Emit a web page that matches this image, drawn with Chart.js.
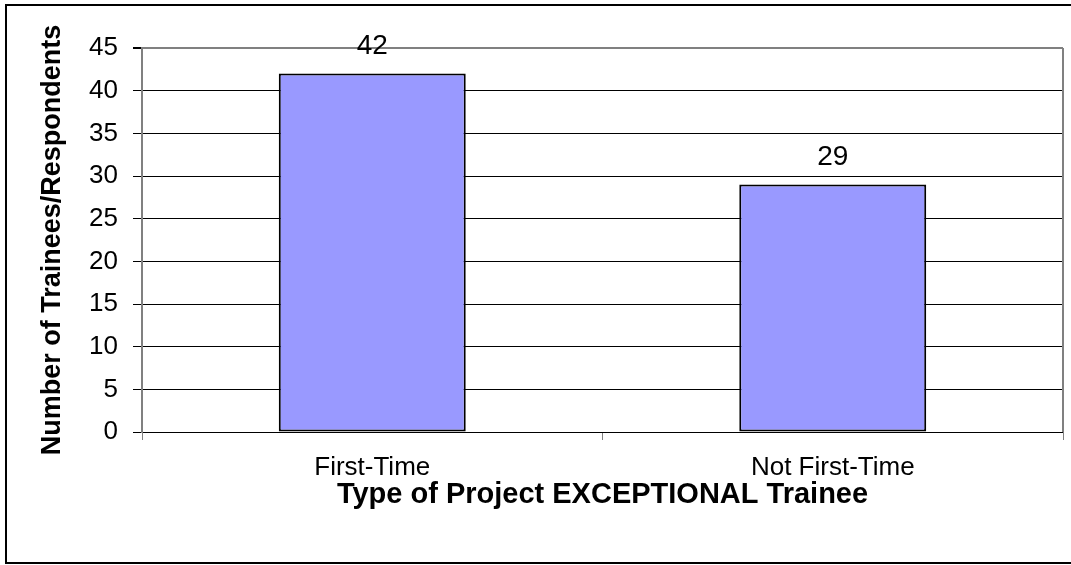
<!DOCTYPE html>
<html>
<head>
<meta charset="utf-8">
<script src="https://cdn.jsdelivr.net/npm/chart.js@4.4.1/dist/chart.umd.min.js"></script>
<style>
    html, body { margin: 0; padding: 0; background: #fff; }
    canvas { display: block; }
</style>
</head>
<body>
<canvas id="traineeChart" width="1071" height="565"></canvas>
<script>
// 数据
const categories = ['First-Time', 'Not First-Time'];
const traineeCounts = [42, 29];
const yTicks = [0, 5, 10, 15, 20, 25, 30, 35, 40, 45];

const fontFamily = '"Liberation Sans", Arial, sans-serif';

// 外框 + 绘图区右边框
const framePlugin = {
    id: 'frame',
    beforeDraw(chart) {
        const ctx = chart.ctx;
        ctx.save();
        ctx.fillStyle = '#fff';
        ctx.fillRect(0, 0, chart.width, chart.height);
        ctx.restore();
    },
    afterDraw(chart) {
        const ctx = chart.ctx;
        const area = chart.chartArea;
        ctx.save();
        ctx.strokeStyle = '#000';
        ctx.lineWidth = 2;
        ctx.strokeRect(6, 5, chart.width + 10, 558);
        ctx.strokeStyle = '#808080';
        ctx.lineWidth = 2;
        ctx.beginPath();
        ctx.moveTo(area.right, area.top);
        ctx.lineTo(area.right, area.bottom);
        ctx.stroke();
        ctx.restore();
    }
};

// 柱顶数值
const valueLabelPlugin = {
    id: 'valueLabels',
    afterDatasetsDraw(chart) {
        const ctx = chart.ctx;
        const meta = chart.getDatasetMeta(0);
        ctx.save();
        ctx.font = '28px ' + fontFamily;
        ctx.fillStyle = '#000';
        ctx.textAlign = 'center';
        ctx.textBaseline = 'alphabetic';
        meta.data.forEach((bar, i) => {
            ctx.fillText(String(traineeCounts[i]), bar.x, bar.y - 20);
        });
        ctx.restore();
    }
};

new Chart(document.getElementById('traineeChart'), {
    type: 'bar',
    data: {
        labels: categories,
        datasets: [{
            data: traineeCounts,
            backgroundColor: '#9999FF',
            borderColor: '#000',
            borderWidth: 2,
            borderSkipped: false,
            barPercentage: 0.406,
            categoryPercentage: 1
        }]
    },
    options: {
        responsive: false,
        animation: false,
        devicePixelRatio: 1,
        layout: {
            padding: { top: 48, right: 8, bottom: 0, left: 0 }
        },
        plugins: {
            legend: { display: false },
            tooltip: { enabled: false }
        },
        scales: {
            x: {
                offset: true,
                grid: {
                    drawOnChartArea: false,
                    drawTicks: true,
                    tickLength: 8,
                    color: '#808080',
                    offset: true
                },
                border: { display: false },
                ticks: {
                    color: '#000',
                    padding: 12,
                    font: { family: fontFamily, size: 26 }
                },
                title: {
                    display: true,
                    text: 'Type of Project EXCEPTIONAL Trainee',
                    color: '#000',
                    font: { family: fontFamily, size: 29, weight: 'bold' },
                    padding: { top: 0, bottom: 53 }
                },
                afterFit(scale) { scale.height = 133; }
            },
            y: {
                min: 0,
                max: 45,
                afterBuildTicks(scale) {
                    scale.ticks = yTicks.map(v => ({ value: v }));
                },
                grid: {
                    color: ctx => (ctx.tick && ctx.tick.value === 45) ? '#808080' : '#000',
                    lineWidth: ctx => (ctx.tick && ctx.tick.value === 45) ? 2 : 1,
                    drawTicks: true,
                    tickLength: 9,
                    tickColor: '#000'
                },
                border: { display: true, color: '#808080', width: 2 },
                ticks: {
                    color: '#000',
                    padding: 15,
                    font: { family: fontFamily, size: 26 }
                },
                title: {
                    display: true,
                    text: 'Number of Trainees/Respondents',
                    color: '#000',
                    font: { family: fontFamily, size: 27, weight: 'bold' },
                    padding: { top: 36, bottom: 0 }
                },
                afterFit(scale) { scale.width = 142; }
            }
        }
    },
    plugins: [framePlugin, valueLabelPlugin]
});
</script>
</body>
</html>
